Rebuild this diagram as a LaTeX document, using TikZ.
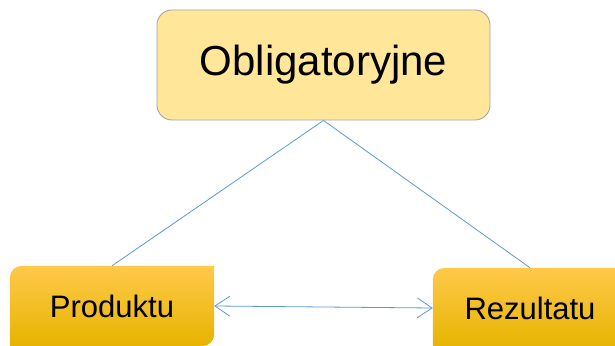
\documentclass[tikz,border=0pt]{standalone}
\usepackage{fontspec}
\setmainfont{Liberation Sans}
\usetikzlibrary{%
    arrows.meta,
    backgrounds,
    positioning
}
\definecolor{boxgray}{HTML}{A6A6A6}
\definecolor{palegold}{HTML}{FFE699}
\definecolor{linkblue}{HTML}{5B9BD5}
\definecolor{goldtop}{HTML}{FFC94A}
\definecolor{goldmid}{HTML}{FFC000}
\definecolor{goldbot}{HTML}{E6B400}
\tikzset{
    headbox/.style = {draw=boxgray, line width=0.9pt, fill=palegold, rounded corners=15pt,
        minimum width=333pt, minimum height=110pt, inner sep=0pt,
        font=\fontsize{42}{48}\selectfont},
    goldbox/.style = {minimum width=204pt, minimum height=80pt, inner sep=0pt,
        font=\fontsize{31}{36}\selectfont},
    goldfill/.style = {top color=goldtop, middle color=goldmid, bottom color=goldbot},
    linkline/.style = {draw=linkblue, line width=0.8pt},
    linkarrow/.style = {linkline, {Straight Barb[length=15pt,width=20pt]}-{Straight Barb[length=15pt,width=20pt]}}
}

\begin{document}
\begin{tikzpicture}[x=1pt,y=1pt]
    \useasboundingbox (0,0) rectangle (615,345);

    \node[headbox] (oblig) at (323.5,280) {Obligatoryjne};
    \node[goldbox] (produktu) at (112,39) {Produktu};
    \node[goldbox, minimum width=194pt] (rezultatu) at (530,37) {Rezultatu};

    \begin{scope}[on background layer]
        \fill[white] (0,0) rectangle (615,345);
        \shade[goldfill] (produktu.south west) -- ([yshift=-12pt]produktu.north west)
            arc[start angle=180, end angle=90, radius=12pt] -- (produktu.north east)
            -- ([yshift=12pt]produktu.south east)
            arc[start angle=0, end angle=-90, radius=12pt] -- cycle;
        \shade[goldfill] (rezultatu.south west) -- ([yshift=-12pt]rezultatu.north west)
            arc[start angle=180, end angle=90, radius=12pt] -- (rezultatu.north east)
            -- (rezultatu.south east) -- cycle;
    \end{scope}

    \draw[linkline] (oblig.south) -- (produktu.north);
    \draw[linkline] (oblig.south) -- (rezultatu.north);
    \draw[linkarrow] (produktu.east) -- (rezultatu.west);
\end{tikzpicture}
\end{document}
